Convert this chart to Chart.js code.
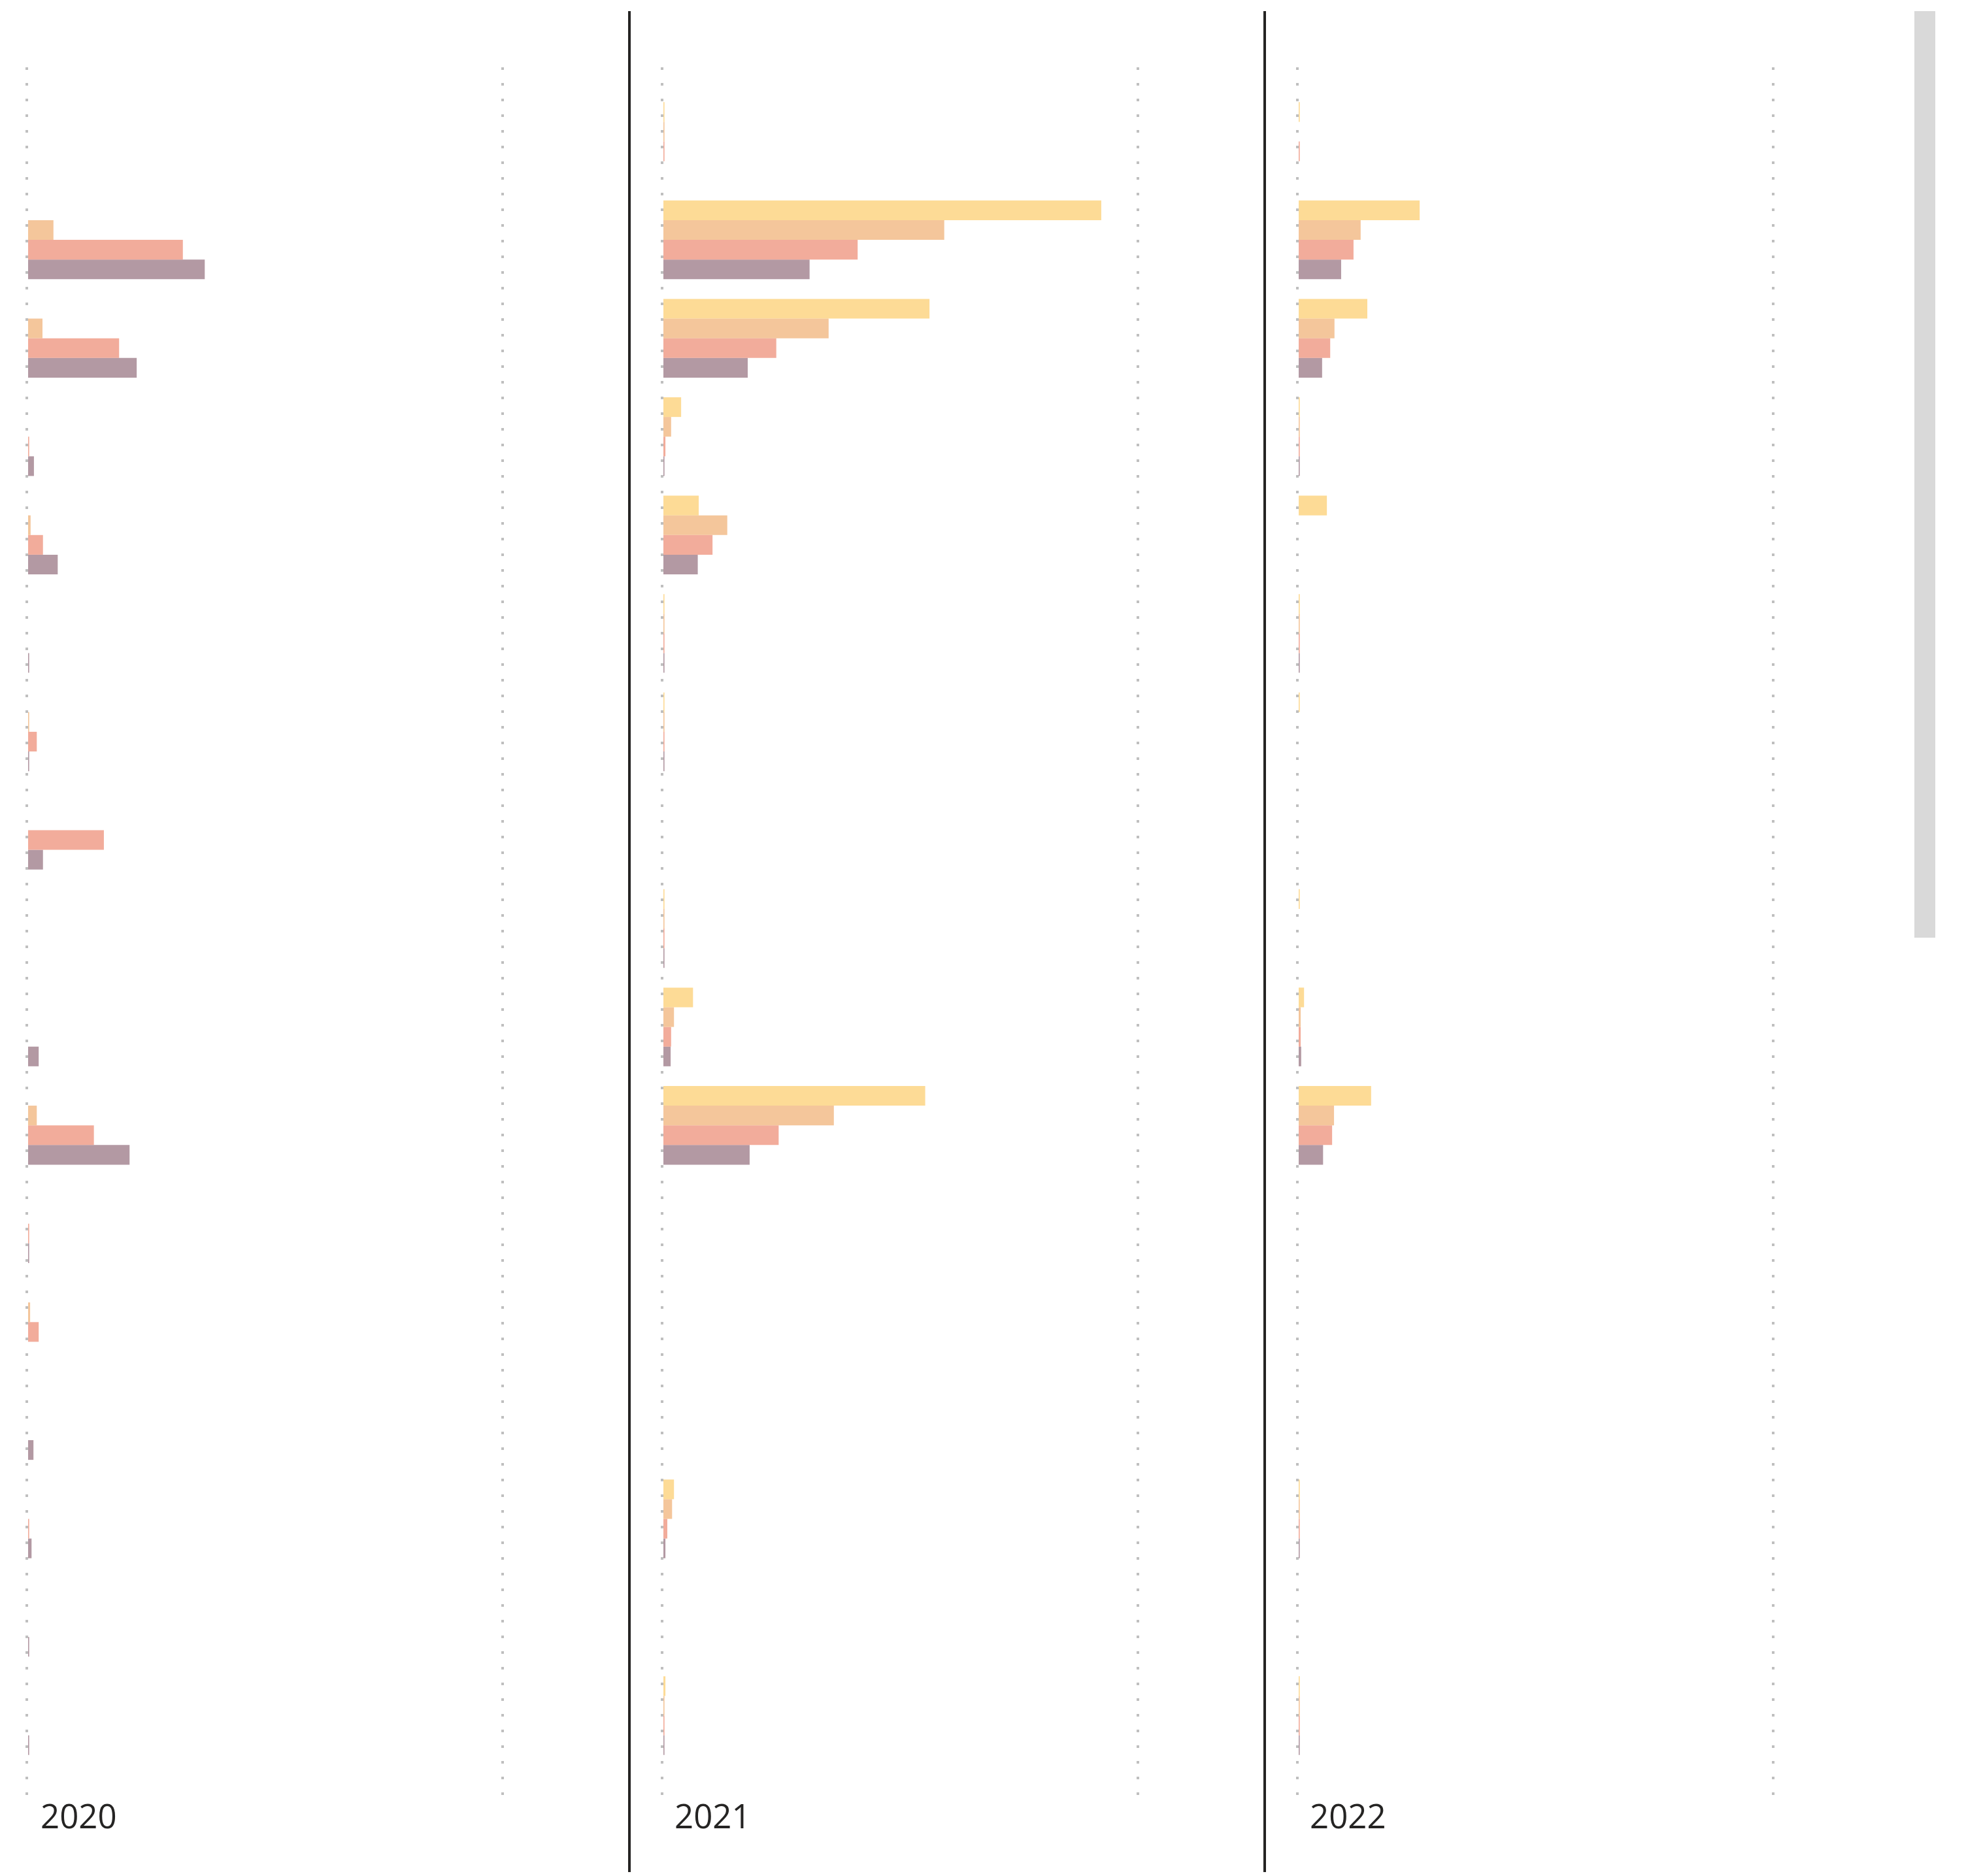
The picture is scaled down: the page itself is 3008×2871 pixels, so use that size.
<!DOCTYPE html>
<html>
<head>
<meta charset="utf-8">
<script src="https://cdn.jsdelivr.net/npm/chart.js@4.4.1/dist/chart.umd.min.js"></script>
<style>
  body { margin: 0; background: #ffffff; }
  #page { position: relative; width: 3008px; height: 2871px; overflow: hidden; }
  canvas { position: absolute; top: 0; }
  .sep { position: absolute; top: 17px; width: 4px; height: 2848px; background: #252423; }
  .year { position: absolute; top: 2753px; font-family: "Open Sans", sans-serif; font-size: 51px; line-height: 1; color: #252423; }
  #scroll { position: absolute; left: 2929px; top: 17px; width: 32px; height: 1418px; background: #d9d9d9; }
</style>
</head>
<body>
<div id="page">
  <canvas id="c2020" width="960" height="2871" style="left:-1px"></canvas>
  <canvas id="c2021" width="960" height="2871" style="left:971px"></canvas>
  <canvas id="c2022" width="960" height="2871" style="left:1943px"></canvas>
  <div class="sep" style="left:961px"></div>
  <div class="sep" style="left:1933px"></div>
  <div class="year" style="left:62px">2020</div>
  <div class="year" style="left:1032px">2021</div>
  <div class="year" style="left:2004px">2022</div>
  <div id="scroll"></div>
</div>
<script>
// Filas (sin etiquetas visibles en el gráfico)
const rows = ['1', '2', '3', '4', '5', '6', '7', '8', '9', '10', '11', '12', '13', '14', '15', '16', '17'];
const series = ['Serie 1', 'Serie 2', 'Serie 3', 'Serie 4'];
const xTicks = [0, 1000];

// 2020
const s1_2020 = [null, null, null, null, null, null, null, null, null, null, null, null, null, null, null, null, null];
const s2_2020 = [null, 56, 33, null, 8, null, 5, null, null, null, 21, null, 7, null, null, null, null];
const s3_2020 = [null, 328, 194, 5, 34, null, 21, 162, null, null, 141, 5, 25, null, 5, null, null];
const s4_2020 = [null, 374, 231, 15, 65, 5, 5, 34, null, 25, 216, 5, null, 14, 10, 5, 5];

// 2021
const s1_2021 = [5, 923, 562, 40, 77, 5, 5, null, 5, 65, 553, null, null, null, 25, null, 7];
const s2_2021 = [5, 593, 350, 19, 137, 5, 5, null, 5, 25, 361, null, null, null, 21, null, 5];
const s3_2021 = [5, 411, 240, 7, 106, 5, 5, null, 5, 19, 245, null, null, null, 11, null, 5];
const s4_2021 = [null, 310, 180, 5, 75, 5, 5, null, 5, 18, 184, null, null, null, 7, null, 5];

// 2022
const s1_2022 = [5, 257, 147, 5, 62, 5, 5, null, 5, 14, 155, null, null, null, 5, null, 5];
const s2_2022 = [null, 133, 78, 5, null, 5, null, null, null, 7, 77, null, null, null, 5, null, 5];
const s3_2022 = [5, 118, 69, 5, null, 5, null, null, null, 7, 73, null, null, null, 5, null, 5];
const s4_2022 = [null, 92, 52, 5, null, 5, null, null, null, 8, 54, null, null, null, 5, null, 5];

const colors = ['rgba(252,207,115,0.75)', 'rgba(240,179,122,0.75)', 'rgba(238,144,122,0.75)', 'rgba(154,119,132,0.75)'];

function makeChart(id, values) {
    new Chart(document.getElementById(id), {
        type: 'bar',
        data: {
            datasets: values.map((vals, k) => ({
                label: series[k],
                data: vals.map((v, i) => ({ x: v, y: i })),
                backgroundColor: colors[k],
                borderWidth: 0
            }))
        },
        options: {
            indexAxis: 'y',
            responsive: false,
            animation: false,
            categoryPercentage: 0.8,
            barPercentage: 1.0,
            layout: { padding: { top: 103, bottom: 123, left: 42, right: 8 } },
            plugins: { legend: { display: false }, tooltip: { enabled: false } },
            scales: {
                x: {
                    min: 0,
                    max: 1250,
                    afterBuildTicks: s => { s.ticks = xTicks.map(v => ({ value: v })); },
                    ticks: { display: false },
                    grid: { color: 'rgba(0,0,0,0.25)', lineWidth: 4, drawTicks: false },
                    border: { display: false, dash: [4, 20] }
                },
                y: {
                    type: 'linear',
                    reverse: true,
                    offset: false,
                    min: -0.754,
                    max: rows.length - 1 + 0.813,
                    display: false,
                    afterBuildTicks: s => { s.ticks = rows.map((r, i) => ({ value: i })); }
                }
            }
        }
    });
}

makeChart('c2020', [s1_2020, s2_2020, s3_2020, s4_2020]);
makeChart('c2021', [s1_2021, s2_2021, s3_2021, s4_2021]);
makeChart('c2022', [s1_2022, s2_2022, s3_2022, s4_2022]);
</script>
</body>
</html>
